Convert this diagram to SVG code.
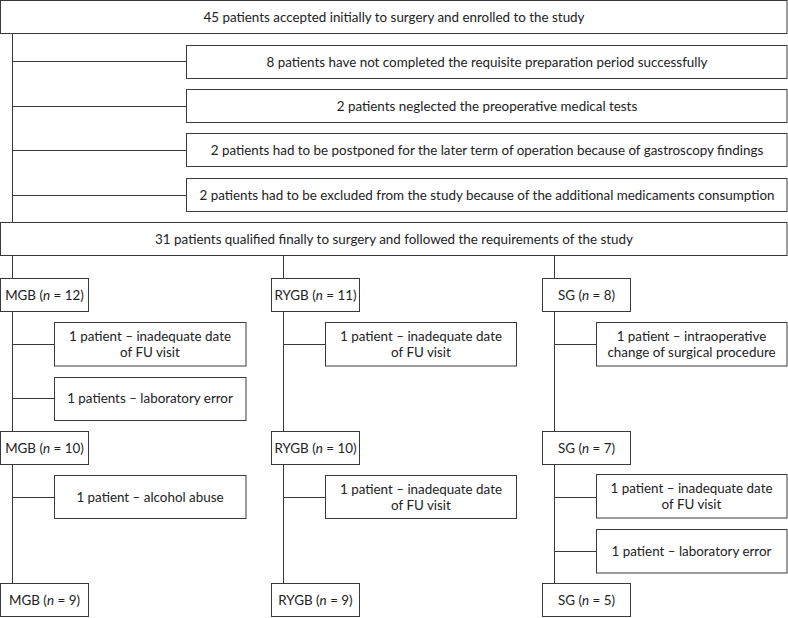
<svg xmlns="http://www.w3.org/2000/svg" width="788" height="618" viewBox="0 0 788 618">
<style>
rect{fill:#fff;stroke:#3a3a3a;stroke-width:1}
text{font-family:Lato,"Open Sans","Liberation Sans",sans-serif;font-size:13.4px;fill:#222;text-anchor:middle}
.c line{stroke:#3a3a3a;stroke-width:1}
</style>
<rect x="0" y="0" width="788" height="618" style="fill:#fff;stroke:none"/>
<g class="c" id="connectors">
<line x1="12.5" y1="33" x2="12.5" y2="222"/>
<line x1="12.5" y1="61.5" x2="186" y2="61.5"/>
<line x1="12.5" y1="106.5" x2="186" y2="106.5"/>
<line x1="12.5" y1="150.5" x2="186" y2="150.5"/>
<line x1="12.5" y1="195.5" x2="186" y2="195.5"/>
<line x1="12.5" y1="256" x2="12.5" y2="278"/>
<line x1="283.5" y1="256" x2="283.5" y2="278"/>
<line x1="554.5" y1="256" x2="554.5" y2="278"/>
<line x1="12.5" y1="312" x2="12.5" y2="431"/>
<line x1="283.5" y1="312" x2="283.5" y2="431"/>
<line x1="554.5" y1="312" x2="554.5" y2="431"/>
<line x1="12.5" y1="344.5" x2="54" y2="344.5"/>
<line x1="12.5" y1="398.5" x2="54" y2="398.5"/>
<line x1="283.5" y1="344.5" x2="325" y2="344.5"/>
<line x1="554.5" y1="344.5" x2="596" y2="344.5"/>
<line x1="12.5" y1="464" x2="12.5" y2="583"/>
<line x1="283.5" y1="464" x2="283.5" y2="583"/>
<line x1="554.5" y1="464" x2="554.5" y2="583"/>
<line x1="12.5" y1="497.5" x2="54" y2="497.5"/>
<line x1="283.5" y1="497.5" x2="325" y2="497.5"/>
<line x1="554.5" y1="497.5" x2="596" y2="497.5"/>
<line x1="554.5" y1="551.5" x2="596" y2="551.5"/>
</g>
<g id="n_top"><rect x="0.5" y="0.5" width="786.5" height="33"/><text x="394" y="21.5">45 patients accepted initially to surgery and enrolled to the study</text></g>
<g id="n_ex1"><rect x="186.5" y="45.5" width="600.5" height="33"/><text x="487" y="66.5">8 patients have not completed the requisite preparation period successfully</text></g>
<g id="n_ex2"><rect x="186.5" y="89.5" width="600.5" height="33"/><text x="487" y="110.5">2 patients neglected the preoperative medical tests</text></g>
<g id="n_ex3"><rect x="186.5" y="133.5" width="600.5" height="33"/><text x="487" y="154.5">2 patients had to be postponed for the later term of operation because of gastroscopy findings</text></g>
<g id="n_ex4"><rect x="186.5" y="178.5" width="600.5" height="33"/><text x="487" y="199.5">2 patients had to be excluded from the study because of the additional medicaments consumption</text></g>
<g id="n_q"><rect x="0.5" y="222.5" width="786.5" height="33"/><text x="394" y="243.5">31 patients qualified finally to surgery and followed the requirements of the study</text></g>
<g id="n_mgb12"><rect x="0.5" y="278.5" width="88" height="33"/><text x="44.5" y="299.5">MGB (<tspan font-style="italic">n</tspan> = 12)</text></g>
<g id="n_rygb11"><rect x="271.5" y="278.5" width="88" height="33"/><text x="315.5" y="299.5">RYGB (<tspan font-style="italic">n</tspan> = 11)</text></g>
<g id="n_sg8"><rect x="542.5" y="278.5" width="88" height="33"/><text x="586.5" y="299.5">SG (<tspan font-style="italic">n</tspan> = 8)</text></g>
<g id="n_m1"><rect x="54.5" y="322.5" width="191.5" height="43.5"/><text x="150" y="341">1 patient – inadequate date</text><text x="150" y="357">of FU visit</text></g>
<g id="n_m2"><rect x="54.5" y="377.5" width="191.5" height="43"/><text x="150" y="403">1 patients – laboratory error</text></g>
<g id="n_r1"><rect x="325.5" y="322.5" width="191" height="43.5"/><text x="421" y="341">1 patient – inadequate date</text><text x="421" y="357">of FU visit</text></g>
<g id="n_s1"><rect x="596.5" y="322.5" width="190.5" height="43.5"/><text x="691.5" y="341">1 patient – intraoperative</text><text x="691.5" y="357">change of surgical procedure</text></g>
<g id="n_mgb10"><rect x="0.5" y="431.5" width="88" height="33"/><text x="44.5" y="452.5">MGB (<tspan font-style="italic">n</tspan> = 10)</text></g>
<g id="n_rygb10"><rect x="271.5" y="431.5" width="88" height="33"/><text x="315.5" y="452.5">RYGB (<tspan font-style="italic">n</tspan> = 10)</text></g>
<g id="n_sg7"><rect x="542.5" y="431.5" width="88" height="33"/><text x="586.5" y="452.5">SG (<tspan font-style="italic">n</tspan> = 7)</text></g>
<g id="n_m3"><rect x="54.5" y="475.5" width="191.5" height="43"/><text x="150" y="501.5">1 patient – alcohol abuse</text></g>
<g id="n_r2"><rect x="325.5" y="475.5" width="191" height="43"/><text x="421" y="494">1 patient – inadequate date</text><text x="421" y="510">of FU visit</text></g>
<g id="n_s2"><rect x="596.5" y="474.5" width="190.5" height="43.5"/><text x="691.5" y="493">1 patient – inadequate date</text><text x="691.5" y="509">of FU visit</text></g>
<g id="n_s3"><rect x="596.5" y="529.5" width="190.5" height="43.5"/><text x="691.5" y="555.5">1 patient – laboratory error</text></g>
<g id="n_mgb9"><rect x="0.5" y="583.5" width="88" height="33"/><text x="44.5" y="604.5">MGB (<tspan font-style="italic">n</tspan> = 9)</text></g>
<g id="n_rygb9"><rect x="271.5" y="583.5" width="88" height="33"/><text x="315.5" y="604.5">RYGB (<tspan font-style="italic">n</tspan> = 9)</text></g>
<g id="n_sg5"><rect x="542.5" y="583.5" width="88" height="33"/><text x="586.5" y="604.5">SG (<tspan font-style="italic">n</tspan> = 5)</text></g>
</svg>
